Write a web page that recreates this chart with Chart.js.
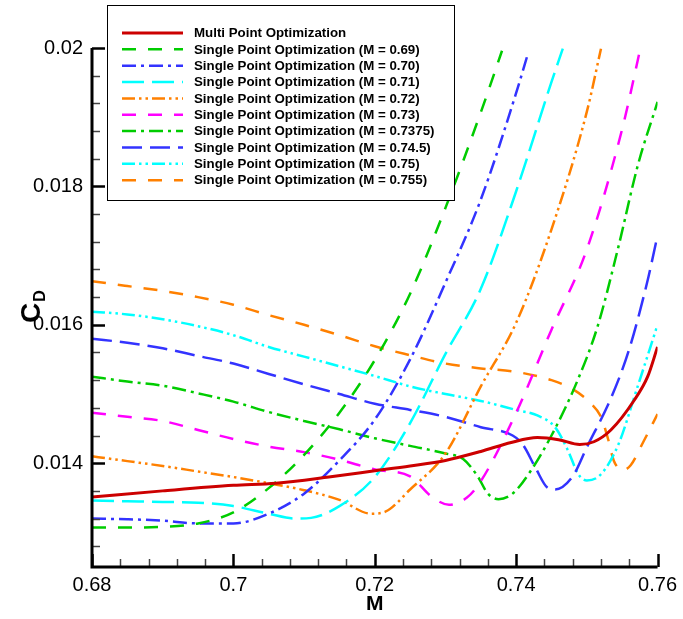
<!DOCTYPE html>
<html>
<head>
<meta charset="utf-8">
<script src="https://cdn.jsdelivr.net/npm/chart.js@4.4.1/dist/chart.umd.min.js"></script>
<style>
  html, body { margin: 0; padding: 0; background: #fff; }
</style>
</head>
<body>
<canvas id="cdChart" width="683" height="619"></canvas>
<script>
// x = Mach number M, y = drag coefficient C_D
const mpM   = [0.68, 0.69, 0.70, 0.706, 0.7135, 0.72, 0.725, 0.73, 0.735, 0.7393, 0.743, 0.746, 0.749, 0.751, 0.7534, 0.7567, 0.7586, 0.76];
const mpCd  = [0.01351, 0.01360, 0.01368, 0.01371, 0.01380, 0.01389, 0.01396, 0.01404, 0.01417, 0.01430, 0.01437, 0.01434, 0.01427, 0.01431, 0.01448, 0.01491, 0.01525, 0.01568];

const sp069M  = [0.68, 0.685, 0.69, 0.695, 0.70, 0.705, 0.71, 0.715, 0.72, 0.725, 0.73, 0.735, 0.738];
const sp069Cd = [0.01307, 0.01307, 0.01308, 0.01313, 0.01329, 0.01364, 0.01412, 0.01473, 0.01549, 0.01645, 0.01769, 0.01907, 0.01996];

const sp070M  = [0.68, 0.685, 0.69, 0.695, 0.70, 0.705, 0.71, 0.715, 0.72, 0.725, 0.73, 0.735, 0.74, 0.7417];
const sp070Cd = [0.01320, 0.01319, 0.01317, 0.01313, 0.01313, 0.01327, 0.01356, 0.01404, 0.01463, 0.01550, 0.01661, 0.01781, 0.01935, 0.01993];

const sp071M  = [0.68, 0.685, 0.69, 0.695, 0.70, 0.705, 0.7088, 0.711, 0.715, 0.72, 0.725, 0.73, 0.735, 0.74, 0.745, 0.7466];
const sp071Cd = [0.01346, 0.01345, 0.01344, 0.01343, 0.01338, 0.01327, 0.01320, 0.01321, 0.01338, 0.01380, 0.01458, 0.01558, 0.01652, 0.01793, 0.01951, 0.01999];

const sp072M  = [0.68, 0.685, 0.69, 0.695, 0.70, 0.705, 0.71, 0.715, 0.7195, 0.7215, 0.725, 0.73, 0.735, 0.74, 0.745, 0.75, 0.752];
const sp072Cd = [0.01410, 0.01403, 0.01396, 0.01388, 0.01380, 0.01371, 0.01361, 0.01347, 0.01327, 0.01330, 0.01362, 0.01414, 0.01511, 0.01603, 0.01738, 0.01908, 0.01999];

const sp073M  = [0.68, 0.685, 0.69, 0.695, 0.70, 0.705, 0.71, 0.715, 0.72, 0.725, 0.728, 0.7305, 0.733, 0.735, 0.74, 0.745, 0.75, 0.755, 0.7575];
const sp073Cd = [0.01473, 0.01467, 0.01461, 0.01448, 0.01435, 0.01424, 0.01416, 0.01405, 0.01391, 0.01381, 0.01352, 0.01340, 0.01350, 0.01374, 0.01473, 0.01593, 0.01709, 0.01883, 0.01996];

const sp07375M  = [0.68, 0.685, 0.69, 0.695, 0.70, 0.705, 0.71, 0.715, 0.72, 0.725, 0.73, 0.7325, 0.7345, 0.736, 0.7375, 0.7395, 0.742, 0.745, 0.7487, 0.7515, 0.7544, 0.7572, 0.76];
const sp07375Cd = [0.01525, 0.01518, 0.01512, 0.01501, 0.01489, 0.01474, 0.01461, 0.01449, 0.01436, 0.01425, 0.01414, 0.01406, 0.01382, 0.01356, 0.01348, 0.01356, 0.01388, 0.01440, 0.01520, 0.01597, 0.01710, 0.01830, 0.01922];

const sp0745M  = [0.68, 0.685, 0.69, 0.695, 0.70, 0.705, 0.71, 0.715, 0.72, 0.725, 0.73, 0.735, 0.7395, 0.741, 0.7427, 0.7445, 0.7455, 0.748, 0.75, 0.7535, 0.756, 0.7585, 0.76];
const sp0745Cd = [0.01580, 0.01574, 0.01566, 0.01555, 0.01544, 0.01529, 0.01514, 0.01500, 0.01486, 0.01477, 0.01467, 0.01452, 0.01440, 0.01426, 0.01394, 0.01364, 0.01362, 0.01381, 0.01423, 0.01496, 0.01565, 0.01660, 0.01729];

const sp075M  = [0.68, 0.685, 0.69, 0.695, 0.70, 0.705, 0.71, 0.715, 0.72, 0.725, 0.73, 0.735, 0.74, 0.743, 0.7455, 0.7473, 0.7488, 0.75, 0.752, 0.7545, 0.757, 0.76];
const sp075Cd = [0.01619, 0.01615, 0.01608, 0.01598, 0.01585, 0.01568, 0.01554, 0.01540, 0.01526, 0.01511, 0.01500, 0.01490, 0.01477, 0.01469, 0.01452, 0.01419, 0.01384, 0.01375, 0.01384, 0.01428, 0.01505, 0.01600];

const sp0755M  = [0.68, 0.685, 0.69, 0.695, 0.70, 0.705, 0.71, 0.715, 0.72, 0.725, 0.73, 0.735, 0.74, 0.745, 0.748, 0.7505, 0.752, 0.753, 0.7538, 0.755, 0.7562, 0.758, 0.76];
const sp0755Cd = [0.01663, 0.01656, 0.01649, 0.01640, 0.01629, 0.01614, 0.01600, 0.01585, 0.01569, 0.01556, 0.01544, 0.01537, 0.01532, 0.01520, 0.01507, 0.01487, 0.01467, 0.01435, 0.01404, 0.01390, 0.01397, 0.01431, 0.01471];

const seriesLabels = [
  'Multi Point Optimization',
  'Single Point Optimization (M = 0.69)',
  'Single Point Optimization (M = 0.70)',
  'Single Point Optimization (M = 0.71)',
  'Single Point Optimization (M = 0.72)',
  'Single Point Optimization (M = 0.73)',
  'Single Point Optimization (M = 0.7375)',
  'Single Point Optimization (M = 0.74.5)',
  'Single Point Optimization (M = 0.75)',
  'Single Point Optimization (M = 0.755)'
];

const xTickVals = [0.68, 0.70, 0.72, 0.74, 0.76];
const yTickVals = [0.014, 0.016, 0.018, 0.020];

const FONT = '"Liberation Sans", Arial, Helvetica, sans-serif';

function pts(xs, ys) {
  return xs.map((x, i) => ({ x: x, y: ys[i] }));
}

function line(label, xs, ys, color, dash, width) {
  return {
    label: label,
    data: pts(xs, ys),
    borderColor: color,
    backgroundColor: color,
    borderWidth: width || 2.5,
    borderDash: dash,
    pointRadius: 0,
    fill: false,
    cubicInterpolationMode: 'monotone'
  };
}

// ticks point inwards and the axes are drawn by hand
const axisFrame = {
  id: 'axisFrame',
  afterDatasetsDraw(chart) {
    const ctx = chart.ctx;
    const a = chart.chartArea;
    const x = chart.scales.x;
    const y = chart.scales.y;
    ctx.save();
    ctx.setLineDash([]);
    for (let k = 0; k <= 20; k++) {
      const px = Math.round(x.getPixelForValue(0.68 + k * 0.004)) + 0.5;
      const major = k % 5 === 0;
      ctx.strokeStyle = major ? '#000' : '#444';
      ctx.lineWidth = major ? 2.5 : 1.5;
      ctx.beginPath();
      ctx.moveTo(px, a.bottom);
      ctx.lineTo(px, a.bottom - (major ? 13 : 8));
      ctx.stroke();
    }
    for (let k = 0; k <= 18; k++) {
      const py = Math.round(y.getPixelForValue(0.0128 + k * 0.0004)) + 0.5;
      const major = (k - 3) % 5 === 0;
      ctx.strokeStyle = major ? '#000' : '#444';
      ctx.lineWidth = major ? 2.5 : 1.5;
      ctx.beginPath();
      ctx.moveTo(a.left, py);
      ctx.lineTo(a.left + (major ? 13 : 8), py);
      ctx.stroke();
    }
    ctx.strokeStyle = '#000';
    ctx.lineWidth = 3;
    ctx.beginPath();
    ctx.moveTo(a.left, a.top);
    ctx.lineTo(a.left, a.bottom);
    ctx.lineTo(a.right, a.bottom);
    ctx.stroke();

    // C_D axis title, rotated, with subscript
    ctx.fillStyle = '#000';
    ctx.translate(40, 323);
    ctx.rotate(-Math.PI / 2);
    ctx.textBaseline = 'alphabetic';
    ctx.textAlign = 'left';
    ctx.font = 'bold 28px ' + FONT;
    ctx.fillText('C', 0, 0);
    const cw = ctx.measureText('C').width;
    ctx.font = 'bold 16px ' + FONT;
    ctx.fillText('D', cw + 1, 5);
    ctx.restore();
  }
};

const boxLegend = {
  id: 'boxLegend',
  afterDraw(chart) {
    const ctx = chart.ctx;
    ctx.save();
    ctx.fillStyle = '#fff';
    ctx.fillRect(107, 5, 347, 195);
    ctx.strokeStyle = '#000';
    ctx.lineWidth = 1;
    ctx.setLineDash([]);
    ctx.strokeRect(107.5, 5.5, 347, 195);
    ctx.font = 'bold 13.3px ' + FONT;
    ctx.textBaseline = 'middle';
    ctx.textAlign = 'left';
    chart.data.datasets.forEach((ds, i) => {
      const ly = 33 + i * 16.35;
      ctx.strokeStyle = ds.borderColor;
      ctx.lineWidth = ds.borderWidth;
      ctx.setLineDash(ds.borderDash || []);
      ctx.beginPath();
      ctx.moveTo(122, ly);
      ctx.lineTo(183, ly);
      ctx.stroke();
      ctx.setLineDash([]);
      ctx.fillStyle = '#000';
      ctx.fillText(ds.label, 194, ly + 0.5);
    });
    ctx.restore();
  }
};

new Chart(document.querySelector('#cdChart'), {
  type: 'line',
  data: {
    datasets: [
      line(seriesLabels[0], mpM, mpCd, '#cc0000', [], 3),
      line(seriesLabels[1], sp069M, sp069Cd, '#00cc00', [14, 12]),
      line(seriesLabels[2], sp070M, sp070Cd, '#3333ff', [14, 5, 3, 5]),
      line(seriesLabels[3], sp071M, sp071Cd, '#00ffff', [22, 8]),
      line(seriesLabels[4], sp072M, sp072Cd, '#ff8000', [13, 4, 2.5, 4, 2.5, 4]),
      line(seriesLabels[5], sp073M, sp073Cd, '#ff00ff', [14, 12]),
      line(seriesLabels[6], sp07375M, sp07375Cd, '#00cc00', [14, 5, 3, 5]),
      line(seriesLabels[7], sp0745M, sp0745Cd, '#3333ff', [20, 8]),
      line(seriesLabels[8], sp075M, sp075Cd, '#00ffff', [13, 4, 2.5, 4, 2.5, 4]),
      line(seriesLabels[9], sp0755M, sp0755Cd, '#ff8000', [14, 12])
    ]
  },
  options: {
    responsive: false,
    animation: false,
    devicePixelRatio: 1,
    layout: { padding: { top: 48, right: 23, left: 0, bottom: 0 } },
    plugins: {
      legend: { display: false },
      tooltip: { enabled: false }
    },
    scales: {
      x: {
        type: 'linear',
        min: 0.68,
        max: 0.76,
        grid: { display: false, drawTicks: false },
        border: { display: false },
        afterBuildTicks: s => { s.ticks = xTickVals.map(v => ({ value: v })); },
        afterFit: s => { s.height = 52; },
        ticks: {
          padding: 6,
          color: '#000',
          maxRotation: 0,
          autoSkip: false,
          font: { family: FONT, size: 20 },
          callback: v => String(+v.toFixed(3))
        },
        title: {
          display: true,
          text: 'M',
          color: '#000',
          padding: { top: 0, bottom: 2 },
          font: { family: FONT, size: 21, weight: 'bold' }
        }
      },
      y: {
        type: 'linear',
        min: 0.0125,
        max: 0.02,
        grid: { display: false, drawTicks: false },
        border: { display: false },
        afterBuildTicks: s => { s.ticks = yTickVals.map(v => ({ value: v })); },
        afterFit: s => { s.width = 92; },
        ticks: {
          padding: 9,
          color: '#000',
          autoSkip: false,
          font: { family: FONT, size: 20 },
          callback: v => String(+v.toFixed(4))
        }
      }
    }
  },
  plugins: [axisFrame, boxLegend]
});
</script>
</body>
</html>
